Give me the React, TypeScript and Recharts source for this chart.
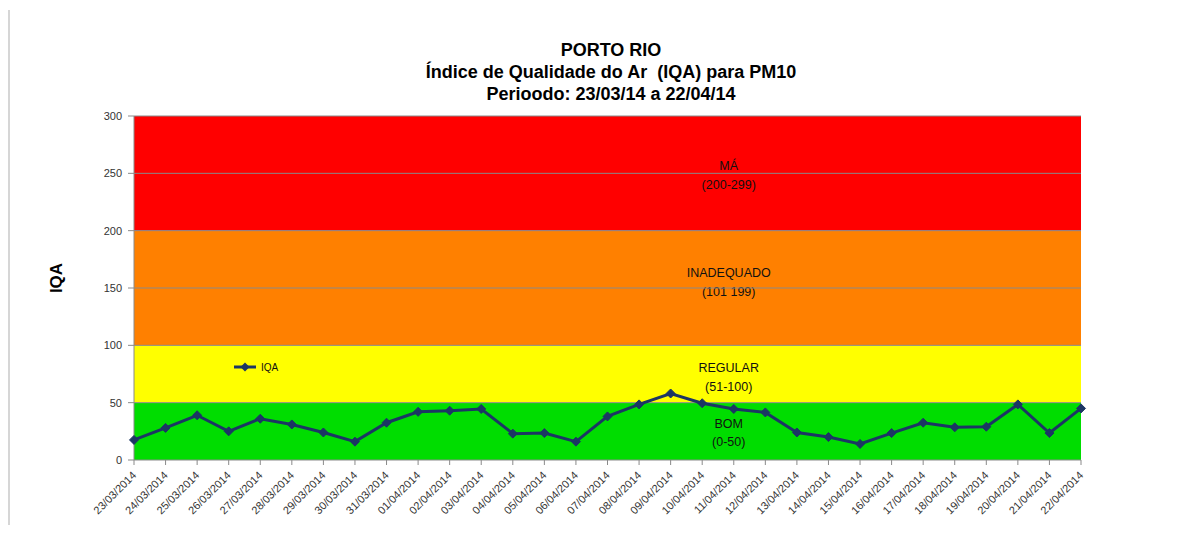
import React from 'react';
import { LineChart, Line, XAxis, YAxis, ReferenceArea, ReferenceLine } from 'recharts';

const dates = [
  '23/03/2014', '24/03/2014', '25/03/2014', '26/03/2014', '27/03/2014', '28/03/2014', '29/03/2014',
  '30/03/2014', '31/03/2014', '01/04/2014', '02/04/2014', '03/04/2014', '04/04/2014', '05/04/2014',
  '06/04/2014', '07/04/2014', '08/04/2014', '09/04/2014', '10/04/2014', '11/04/2014', '12/04/2014',
  '13/04/2014', '14/04/2014', '15/04/2014', '16/04/2014', '17/04/2014', '18/04/2014', '19/04/2014',
  '20/04/2014', '21/04/2014', '22/04/2014',
];
const iqa = [
  17.5, 28, 39, 25, 36, 31, 24, 16, 32.5, 42, 43, 44.5, 23, 23.5, 16, 38, 48.5, 58, 49.5, 44.5, 41.5,
  24, 20, 14, 23.5, 32.5, 28.5, 29, 48.5, 23.5, 45,
];
const yTicks = [0, 50, 100, 150, 200, 250, 300];
const bandLower = [0, 50, 100, 200];
const bandUpper = [50, 100, 200, 300];
const bandNames = ['BOM', 'REGULAR', 'INADEQUADO', 'MÁ'];
const bandRanges = ['(0-50)', '(51-100)', '(101 199)', '(200-299)'];
const titleLines = ['PORTO RIO', 'Índice de Qualidade do Ar  (IQA) para PM10', 'Perioodo: 23/03/14 a 22/04/14'];
const seriesName = 'IQA';

const bandColors = ['#00DD00', '#FFFF00', '#FF8000', '#FF0000'];
const bandLabelOffsets = [[21, 39], [23, 42], [42, 61], [50, 69]];

const data = dates.map((d, i) => ({ date: d, IQA: iqa[i] }));
const FONT = 'Liberation Sans, Arial, sans-serif';
const LINE_COLOR = '#1C3664';

const XTick = (props: any) => {
  const { x, y, payload } = props;
  return (
    <g transform={`translate(${x + 3},${y + 9})`}>
      <text textAnchor="end" transform="rotate(-45)" fontSize={11} fill="#333" fontFamily={FONT}>
        {payload.value}
      </text>
    </g>
  );
};

const Diamond = (props: any) => {
  const { cx, cy } = props;
  if (cx == null || cy == null) return null;
  const r = 4.5;
  return (
    <polygon
      points={`${cx},${cy - r} ${cx + r},${cy} ${cx},${cy + r} ${cx - r},${cy}`}
      fill={LINE_COLOR}
      stroke={LINE_COLOR}
      strokeWidth={1}
    />
  );
};

const makeBandLabel = (i: number) => (props: any) => {
  const vb = props.viewBox;
  if (!vb) return null;
  const cx = vb.x + vb.width * 0.628;
  return (
    <g>
      <text x={cx} y={vb.y + bandLabelOffsets[i][0]} textAnchor="middle" dominantBaseline="central" fontSize={12.5} fill="#111" fontFamily={FONT}>
        {bandNames[i]}
      </text>
      <text x={cx} y={vb.y + bandLabelOffsets[i][1]} textAnchor="middle" dominantBaseline="central" fontSize={12.5} fill="#111" fontFamily={FONT}>
        {bandRanges[i]}
      </text>
    </g>
  );
};

export default function App() {
  return (
    <div style={{ position: 'absolute', left: 0, top: 0, width: 1183, height: 548, background: '#fff', overflow: 'hidden' }}>
      <div style={{ position: 'absolute', left: 8, top: 10, width: 2, height: 515, background: '#d6d6d6' }} />
      <div style={{ position: 'absolute', left: 0, top: 0 }}>
        <LineChart width={1183} height={548} data={data} margin={{ top: 116, right: 102, bottom: 0, left: 0 }}>
          {bandLower.map((lo, i) => (
            <ReferenceArea
              key={'b' + i}
              y1={lo}
              y2={bandUpper[i]}
              fill={bandColors[i]}
              fillOpacity={1}
              stroke="none"
              ifOverflow="hidden"
              label={makeBandLabel(i)}
            />
          ))}
          {yTicks.slice(1).map((t) => (
            <ReferenceLine key={'g' + t} y={t} stroke="#8a8a8a" strokeWidth={1} />
          ))}
          <XAxis
            dataKey="date"
            interval={0}
            height={88}
            tick={<XTick />}
            tickLine={{ stroke: '#8a8a8a' }}
            axisLine={{ stroke: '#8a8a8a' }}
            tickSize={5}
          />
          <YAxis
            width={134}
            domain={[0, 300]}
            ticks={yTicks}
            interval={0}
            tickSize={6}
            tickMargin={6}
            tick={{ fontSize: 11, fill: '#333', fontFamily: FONT }}
            tickLine={{ stroke: '#8a8a8a' }}
            axisLine={{ stroke: '#8a8a8a' }}
          />
          <Line
            type="linear"
            dataKey="IQA"
            name={seriesName}
            stroke={LINE_COLOR}
            strokeWidth={3}
            dot={<Diamond />}
            activeDot={false}
            isAnimationActive={false}
          />
        </LineChart>
      </div>
      <div
        style={{
          position: 'absolute', left: 311, top: 39, width: 600, textAlign: 'center',
          fontFamily: FONT, fontWeight: 'bold', fontSize: 18, lineHeight: '22px', color: '#000',
        }}
      >
        {titleLines.map((t, i) => (
          <div key={i} style={{ whiteSpace: 'pre' }}>{t}</div>
        ))}
      </div>
      <div
        style={{
          position: 'absolute', left: 57, top: 278, transform: 'translate(-50%, -50%) rotate(-90deg)',
          fontFamily: FONT, fontWeight: 'bold', fontSize: 17, color: '#000', whiteSpace: 'nowrap',
        }}
      >
        IQA
      </div>
      <svg style={{ position: 'absolute', left: 232, top: 359 }} width={60} height={16}>
        <line x1={2} y1={8} x2={24} y2={8} stroke={LINE_COLOR} strokeWidth={3} />
        <polygon points="13,3.5 17.5,8 13,12.5 8.5,8" fill={LINE_COLOR} />
        <text x={29} y={8} dominantBaseline="central" fontSize={10} fill="#111" fontFamily={FONT}>{seriesName}</text>
      </svg>
    </div>
  );
}
